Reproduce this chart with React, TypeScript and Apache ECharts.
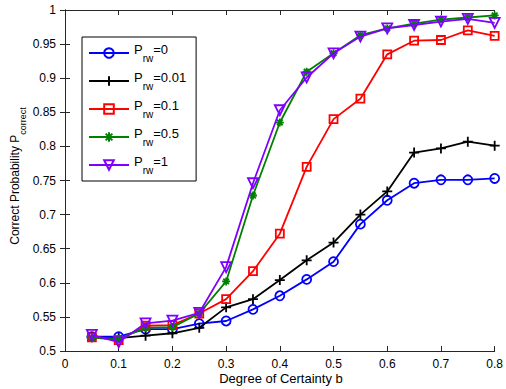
import React, { useEffect, useRef } from "react";
import * as echarts from "echarts";

const xValues = [0.05, 0.1, 0.15, 0.2, 0.25, 0.3, 0.35, 0.4, 0.45, 0.5, 0.55, 0.6, 0.65, 0.7, 0.75, 0.8];
const xTicks = ["0", "0.1", "0.2", "0.3", "0.4", "0.5", "0.6", "0.7", "0.8"];
const yTicks = ["0.5", "0.55", "0.6", "0.65", "0.7", "0.75", "0.8", "0.85", "0.9", "0.95", "1"];

const prw0 = [0.521, 0.521, 0.532, 0.532, 0.54, 0.544, 0.561, 0.581, 0.605, 0.631, 0.686, 0.721, 0.746, 0.751, 0.751, 0.753];
const prw001 = [0.52, 0.519, 0.5225, 0.526, 0.534, 0.564, 0.576, 0.604, 0.633, 0.659, 0.7, 0.734, 0.791, 0.797, 0.807, 0.801];
const prw01 = [0.52, 0.516, 0.537, 0.538, 0.555, 0.576, 0.617, 0.672, 0.77, 0.84, 0.87, 0.935, 0.955, 0.956, 0.97, 0.962];
const prw05 = [0.5195, 0.518, 0.534, 0.535, 0.555, 0.602, 0.728, 0.835, 0.9095, 0.9365, 0.963, 0.973, 0.98, 0.986, 0.989, 0.992];
const prw1 = [0.5235, 0.513, 0.5406, 0.5445, 0.556, 0.623, 0.746, 0.853, 0.901, 0.9365, 0.961, 0.973, 0.978, 0.983, 0.987, 0.981];

const seriesNames = ["0", "0.01", "0.1", "0.5", "1"];
const seriesColors = ["#0000ff", "#000000", "#ff0000", "#008000", "#7f00ff"];

const CIRCLE = "circle";
const PLUS = "path://M0,-1L0,1M-1,0L1,0";
const STAR = "path://M0,-1L0,1M-1,0L1,0M-0.7,-0.7L0.7,0.7M-0.7,0.7L0.7,-0.7";
const TRI = "path://M-1,-0.9L1,-0.9L0,0.9Z";

export default function App() {
  const ref = useRef<HTMLDivElement>(null);
  useEffect(() => {
    if (!ref.current) return;
    const chart = echarts.init(ref.current, null, { renderer: "svg" });
    const datasets = [prw0, prw001, prw01, prw05, prw1];
    const symbols = [CIRCLE, PLUS, "rect", STAR, TRI];
    const sizes = [9, 10, 8, 8, 10];
    const font = "'Liberation Sans', Arial, sans-serif";
    const axisColor = "#262626";
    const series = datasets.map((d, i) => ({
      type: "line",
      name: "P_rw=" + seriesNames[i],
      data: d.map((v, j) => [xValues[j], v]),
      symbol: symbols[i],
      symbolSize: sizes[i],
      showSymbol: true,
      showAllSymbol: true,
      lineStyle: { color: seriesColors[i], width: 1.8, type: "solid" },
      itemStyle: {
        color: "none",
        borderColor: seriesColors[i],
        borderWidth: 1.8,
        borderType: "solid",
        opacity: 1,
      },
      emphasis: { disabled: true },
      z: 2 + i,
    }));
    chart.setOption({
      animation: false,
      backgroundColor: "#ffffff",
      aria: { enabled: false, decal: { show: false } },
      textStyle: { fontFamily: font },
      grid: { left: 65, right: 9, top: 10, bottom: 38 },
      legend: {
        orient: "vertical",
        left: 82,
        top: 37,
        padding: [6, 10, 6, 6],
        itemWidth: 40,
        itemHeight: 12,
        itemGap: 8,
        borderColor: "#000",
        borderWidth: 1,
        backgroundColor: "#ffffff",
        selectedMode: false,
        data: series.map((s) => s.name),
        formatter: (name: string) => "{a|P}{b|rw}{a|=" + name.split("=")[1] + "}",
        textStyle: {
          fontFamily: font,
          rich: {
            a: { fontSize: 13, color: "#000", fontFamily: font, lineHeight: 20, verticalAlign: "top", padding: [0, 0, 4, 0] },
            b: { fontSize: 10, color: "#000", fontFamily: font, lineHeight: 20, verticalAlign: "bottom", padding: [6, 0, 0, 0] },
          },
        },
      },
      xAxis: [
        {
          type: "value",
          min: 0,
          max: 0.8,
          interval: 0.1,
          position: "bottom",
          axisLine: { lineStyle: { color: axisColor, width: 1 } },
          axisTick: { inside: true, length: 5, lineStyle: { color: axisColor } },
          axisLabel: {
            color: "#000",
            fontSize: 12,
            fontFamily: font,
            margin: 7,
            formatter: (v: number) => xTicks[Math.round(v * 10)],
          },
          splitLine: { show: false },
        },
        {
          type: "value",
          min: 0,
          max: 0.8,
          interval: 0.1,
          position: "top",
          axisLine: { lineStyle: { color: axisColor, width: 1 } },
          axisTick: { inside: true, length: 5, lineStyle: { color: axisColor } },
          axisLabel: { show: false },
          splitLine: { show: false },
        },
      ],
      yAxis: [
        {
          type: "value",
          min: 0.5,
          max: 1,
          interval: 0.05,
          position: "left",
          axisLine: { show: true, lineStyle: { color: axisColor, width: 1 } },
          axisTick: { show: true, inside: true, length: 5, lineStyle: { color: axisColor } },
          axisLabel: {
            color: "#000",
            fontSize: 12,
            fontFamily: font,
            margin: 9,
            formatter: (v: number) => yTicks[Math.round((v - 0.5) * 20)],
          },
          splitLine: { show: false },
        },
        {
          type: "value",
          min: 0.5,
          max: 1,
          interval: 0.05,
          position: "right",
          axisLine: { show: true, lineStyle: { color: axisColor, width: 1 } },
          axisTick: { show: true, inside: true, length: 5, lineStyle: { color: axisColor } },
          axisLabel: { show: false },
          splitLine: { show: false },
        },
      ],
      graphic: [
        {
          type: "text",
          x: 281,
          y: 378,
          style: {
            text: "Degree of Certainty b",
            font: "13px " + font,
            fill: "#000",
            align: "center",
            verticalAlign: "middle",
          },
        },
        {
          type: "text",
          x: 18,
          y: 176,
          rotation: Math.PI / 2,
          style: {
            text: "{a|Correct Probability P}{b|correct}",
            fill: "#000",
            align: "center",
            verticalAlign: "middle",
            rich: {
              a: { fontSize: 12, fontFamily: font, fill: "#000", lineHeight: 18, verticalAlign: "top", padding: [0, 0, 4, 0] },
              b: { fontSize: 9, fontFamily: font, fill: "#000", lineHeight: 18, verticalAlign: "bottom", padding: [6, 0, 0, 0] },
            },
          },
        },
      ],
      series,
    });
    return () => chart.dispose();
  }, []);
  return <div ref={ref} style={{ width: 506, height: 389, position: "absolute", left: 0, top: 0 }} />;
}
